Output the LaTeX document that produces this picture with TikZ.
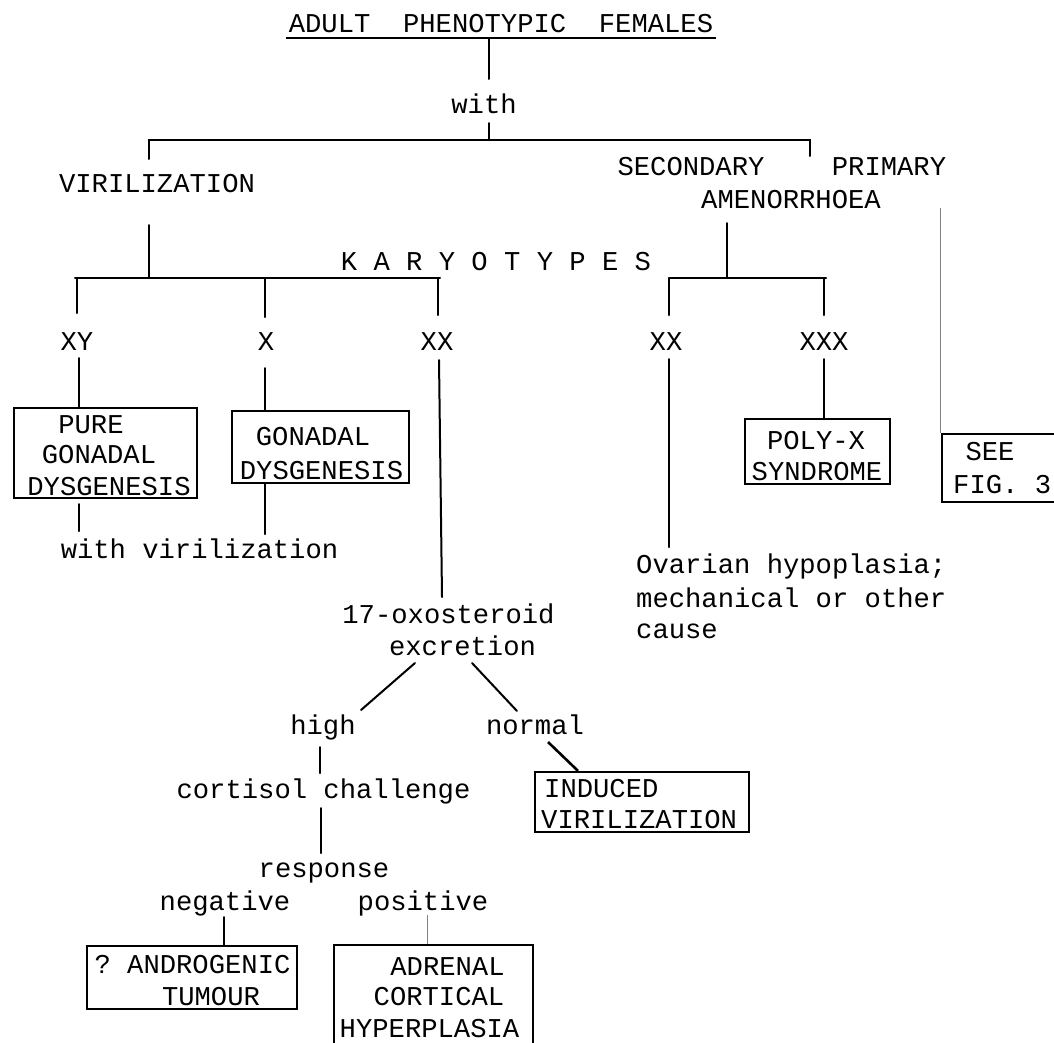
\documentclass[tikz,border=0pt]{standalone}
\usepackage{fontspec}
\newfontfamily\plotfont{Liberation Mono}
\begin{document}
\begin{tikzpicture}[x=1pt,y=-1pt]
\tikzset{
  lbl/.style={font=\plotfont\fontsize{27.2}{30}\selectfont, inner sep=0pt, anchor=base},
  lbll/.style={lbl, anchor=base west},
  link/.style={line width=2pt, line cap=round},
  faint/.style={line width=1pt, black!50},
  boxd/.style={draw, line width=2.2pt, inner sep=0pt},
}
\useasboundingbox (0,0) rectangle (1054,1042);
\clip (0,0) rectangle (1054,1042);

% ---------- headings ----------
\node[lbl] (title) at (501,32) {ADULT\ \ PHENOTYPIC\ \ FEMALES};
\node[lbl] (with) at (484,113) {with};
\node[lbl] (viril) at (157,192) {VIRILIZATION};
\node[lbl] (second) at (691,175) {SECONDARY};
\node[lbl] (primary) at (889,175) {PRIMARY};
\node[lbl] (amen) at (791,208) {AMENORRHOEA};
\node[lbl] (karyo) at (496,270) {K A R Y O T Y P E S};

% karyotypes
\node[lbl] (xy) at (77,350) {XY};
\node[lbl] (xo) at (266,350) {X};
\node[lbl] (xxl) at (437,350) {XX};
\node[lbl] (xxr) at (666,350) {XX};
\node[lbl] (xxx) at (824,350) {XXX};

% ---------- boxes ----------
\node[boxd, minimum width=183pt, minimum height=90pt] (pgd) at (105.5,453) {};
\node[lbl] at (91,433) {PURE};
\node[lbl] at (99,463) {GONADAL};
\node[lbl] at (109,495) {DYSGENESIS};

\node[boxd, minimum width=177pt, minimum height=72pt] (gd) at (320.5,447) {};
\node[lbl] at (313,445) {GONADAL};
\node[lbl] at (321.5,479) {DYSGENESIS};

\node[boxd, minimum width=145pt, minimum height=65pt] (polyx) at (817.5,451.5) {};
\node[lbl] at (816,449) {POLY-X};
\node[lbl] at (817,480) {SYNDROME};

\node[boxd, minimum width=122pt, minimum height=68pt] (seefig) at (1003,468) {};
\node[lbl] at (990,460) {SEE};
\node[lbll] at (953,493) {FIG.\ 3};

\node[boxd, minimum width=214pt, minimum height=60pt] (induced) at (642,802) {};
\node[lbll] at (544,797) {INDUCED};
\node[lbll] at (541,828) {VIRILIZATION};

\node[boxd, minimum width=210pt, minimum height=63pt] (andro) at (192,977.5) {};
\node[lbl] at (192.5,973) {?\ ANDROGENIC};
\node[lbl] at (211,1005) {TUMOUR};

\node[boxd, minimum width=199pt, minimum height=115pt] (adrenal) at (433.5,1002.5) {};
\node[lbl] at (447.5,975) {ADRENAL};
\node[lbl] at (439,1005) {CORTICAL};
\node[lbl] at (429.5,1037) {HYPERPLASIA};

% ---------- free text ----------
\node[lbl] (withvir) at (199.5,558) {with virilization};
\node[lbll] (ovar1) at (636,573) {Ovarian hypoplasia;};
\node[lbll] (ovar2) at (636,607) {mechanical or other};
\node[lbll] (ovar3) at (636,638) {cause};
\node[lbl] (oxo) at (448.5,623) {17-oxosteroid};
\node[lbl] (excr) at (462.5,655) {excretion};
\node[lbl] (high) at (323,734) {high};
\node[lbl] (normal) at (535,734) {normal};
\node[lbl] (cortisol) at (323.5,798) {cortisol challenge};
\node[lbl] (response) at (324,877) {response};
\node[lbl] (negative) at (225,910) {negative};
\node[lbl] (positive) at (423,910) {positive};

% ---------- connector points ----------
\coordinate (ulL) at (286,38);
\coordinate (ulR) at (716,38);
\coordinate (ulM) at (489,38);
\coordinate (withTop) at (489,79);
\coordinate (withBot) at (489,123);
\coordinate (barM) at (489,140);
\coordinate (barL) at (149,140);
\coordinate (barR) at (810,140);
\coordinate (virTop) at (149,159);
\coordinate (amenTop) at (810,156);
\coordinate (virBot) at (149,225);
\coordinate (kL) at (149,278);
\coordinate (kLa) at (75,278);
\coordinate (kLb) at (440,278);
\coordinate (k1) at (77,278);
\coordinate (k1e) at (77,313);
\coordinate (k2) at (265,278);
\coordinate (k2e) at (265,317);
\coordinate (k3) at (438,278);
\coordinate (k3e) at (438,315);
\coordinate (amenBot) at (727,223);
\coordinate (kR) at (727,278);
\coordinate (kRa) at (669,278);
\coordinate (kRb) at (826,278);
\coordinate (k4e) at (669,315);
\coordinate (k5) at (824,278);
\coordinate (k5e) at (824,315);
\coordinate (xyBot) at (79,358);
\coordinate (pgdBot) at (79,531);
\coordinate (xoBot) at (265,368);
\coordinate (gdBot) at (265,534);
\coordinate (xxlBot) at (439,360);
\coordinate (oxoTop) at (442,597);
\coordinate (xxrBot) at (669,359);
\coordinate (ovarTop) at (669,547);
\coordinate (xxxBot) at (824,359);
\coordinate (primBot) at (940,208);
\coordinate (exL) at (415,663);
\coordinate (hiTop) at (361,710);
\coordinate (exR) at (472,663);
\coordinate (noTop) at (517,711);
\coordinate (hiBot) at (320,747);
\coordinate (coTop) at (320,773);
\coordinate (coBot) at (321,808);
\coordinate (reTop) at (321,853);
\coordinate (noBot) at (548,742);
\coordinate (noEnd) at (578,772);
\coordinate (neBot) at (224,917);
\coordinate (poBot) at (427,915);

% ---------- connectors ----------
\draw[line width=2.5pt] (ulL) -- (ulR);
\draw[link] (ulM) -- (withTop);
\draw[link] (withBot) -- (barM);
\draw[link] (virTop) -- (barL) -- (barR) -- (amenTop);

\draw[link] (virBot) -- (kL);
\draw[link] (kLa) -- (kLb);
\draw[link] (k1) -- (k1e);
\draw[link] (k2) -- (k2e);
\draw[link] (k3) -- (k3e);
\draw[link] (amenBot) -- (kR);
\draw[link] (kRa) -- (kRb);
\draw[link] (kRa) -- (k4e);
\draw[link] (k5) -- (k5e);

\draw[link] (xyBot) -- (xyBot |- pgd.north);
\draw[link] (xyBot |- pgd.south) ++(0,5) -- (pgdBot);
\draw[link] (xoBot) -- (xoBot |- gd.north);
\draw[link] (xoBot |- gd.south) -- (gdBot);
\draw[link] (xxlBot) -- (oxoTop);
\draw[link] (xxrBot) -- (ovarTop);
\draw[link] (xxxBot) -- (xxxBot |- polyx.north);
\draw[faint] (primBot) -- (primBot |- seefig.north);

\draw[link] (exL) -- (hiTop);
\draw[link] (exR) -- (noTop);
\draw[link] (hiBot) -- (coTop);
\draw[link] (coBot) -- (reTop);
\draw[line width=2.6pt] (noBot) -- (noEnd |- induced.north);
\draw[link] (neBot) -- (neBot |- andro.north);
\draw[faint] (poBot) -- (poBot |- adrenal.north);
\end{tikzpicture}
\end{document}
